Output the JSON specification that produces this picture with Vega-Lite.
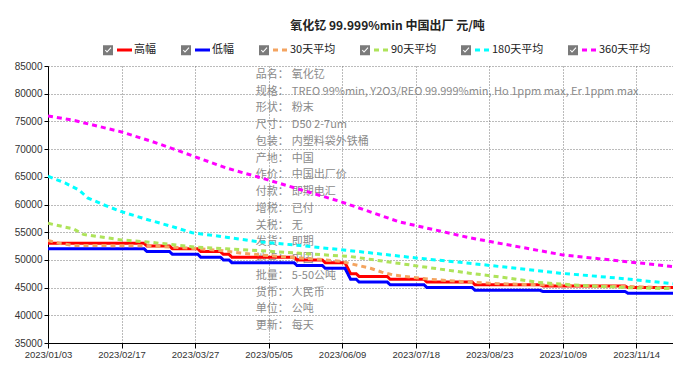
{
  "$schema": "https://vega.github.io/schema/vega-lite/v6.json",
  "width": 625,
  "height": 277,
  "autosize": "none",
  "padding": {"left": 48, "top": 66, "right": 0, "bottom": 33},
  "background": "white",
  "title": {"text": "氧化钇 99.999%min 中国出厂 元/吨", "anchor": "middle", "dx": 27, "offset": 8, "fontSize": 12, "fontWeight": "bold", "font": "Noto Sans CJK SC", "color": "#222"},
  "datasets": {
    "prices": [
      {"s": "高幅", "i": 0, "v": 53000}, {"s": "高幅", "i": 34, "v": 53000}, {"s": "高幅", "i": 35, "v": 52500}, {"s": "高幅", "i": 43, "v": 52500}, {"s": "高幅", "i": 44, "v": 52000}, {"s": "高幅", "i": 53, "v": 52000}, {"s": "高幅", "i": 54, "v": 51500}, {"s": "高幅", "i": 61, "v": 51500}, {"s": "高幅", "i": 62, "v": 51000}, {"s": "高幅", "i": 64, "v": 51000}, {"s": "高幅", "i": 65, "v": 50500}, {"s": "高幅", "i": 87, "v": 50500}, {"s": "高幅", "i": 88, "v": 50000}, {"s": "高幅", "i": 97, "v": 50000}, {"s": "高幅", "i": 98, "v": 49500}, {"s": "高幅", "i": 105, "v": 49500}, {"s": "高幅", "i": 107, "v": 47500}, {"s": "高幅", "i": 109, "v": 47500}, {"s": "高幅", "i": 110, "v": 47000}, {"s": "高幅", "i": 120, "v": 47000}, {"s": "高幅", "i": 121, "v": 46500}, {"s": "高幅", "i": 133, "v": 46500}, {"s": "高幅", "i": 134, "v": 46000}, {"s": "高幅", "i": 150, "v": 46000}, {"s": "高幅", "i": 151, "v": 45500}, {"s": "高幅", "i": 174, "v": 45500}, {"s": "高幅", "i": 175, "v": 45300}, {"s": "高幅", "i": 204, "v": 45300}, {"s": "高幅", "i": 205, "v": 45000}, {"s": "高幅", "i": 221, "v": 45000},
      {"s": "低幅", "i": 0, "v": 52000}, {"s": "低幅", "i": 34, "v": 52000}, {"s": "低幅", "i": 35, "v": 51500}, {"s": "低幅", "i": 43, "v": 51500}, {"s": "低幅", "i": 44, "v": 51000}, {"s": "低幅", "i": 53, "v": 51000}, {"s": "低幅", "i": 54, "v": 50500}, {"s": "低幅", "i": 61, "v": 50500}, {"s": "低幅", "i": 62, "v": 50000}, {"s": "低幅", "i": 64, "v": 50000}, {"s": "低幅", "i": 65, "v": 49500}, {"s": "低幅", "i": 87, "v": 49500}, {"s": "低幅", "i": 88, "v": 49000}, {"s": "低幅", "i": 97, "v": 49000}, {"s": "低幅", "i": 98, "v": 48500}, {"s": "低幅", "i": 105, "v": 48500}, {"s": "低幅", "i": 107, "v": 46500}, {"s": "低幅", "i": 109, "v": 46500}, {"s": "低幅", "i": 110, "v": 46000}, {"s": "低幅", "i": 120, "v": 46000}, {"s": "低幅", "i": 121, "v": 45500}, {"s": "低幅", "i": 133, "v": 45500}, {"s": "低幅", "i": 134, "v": 45000}, {"s": "低幅", "i": 150, "v": 45000}, {"s": "低幅", "i": 151, "v": 44500}, {"s": "低幅", "i": 174, "v": 44500}, {"s": "低幅", "i": 175, "v": 44300}, {"s": "低幅", "i": 204, "v": 44300}, {"s": "低幅", "i": 205, "v": 44000}, {"s": "低幅", "i": 221, "v": 44000},
      {"s": "30天平均", "i": 0, "v": 53500}, {"s": "30天平均", "i": 4, "v": 53000}, {"s": "30天平均", "i": 9, "v": 52600}, {"s": "30天平均", "i": 35, "v": 52550}, {"s": "30天平均", "i": 39, "v": 52450}, {"s": "30天平均", "i": 44, "v": 52300}, {"s": "30天平均", "i": 54, "v": 52000}, {"s": "30天平均", "i": 61, "v": 51700}, {"s": "30天平均", "i": 68, "v": 51250}, {"s": "30天平均", "i": 75, "v": 50900}, {"s": "30天平均", "i": 85, "v": 50500}, {"s": "30天平均", "i": 96, "v": 50100}, {"s": "30天平均", "i": 104, "v": 49700}, {"s": "30天平均", "i": 108, "v": 49200}, {"s": "30天平均", "i": 114, "v": 48500}, {"s": "30天平均", "i": 118, "v": 47800}, {"s": "30天平均", "i": 122, "v": 47300}, {"s": "30天平均", "i": 128, "v": 46900}, {"s": "30天平均", "i": 135, "v": 46500}, {"s": "30天平均", "i": 146, "v": 46100}, {"s": "30天平均", "i": 160, "v": 45700}, {"s": "30天平均", "i": 174, "v": 45500}, {"s": "30天平均", "i": 195, "v": 45300}, {"s": "30天平均", "i": 209, "v": 45150}, {"s": "30天平均", "i": 221, "v": 44900},
      {"s": "90天平均", "i": 0, "v": 56600}, {"s": "90天平均", "i": 9, "v": 55600}, {"s": "90天平均", "i": 12.5, "v": 54600}, {"s": "90天平均", "i": 26, "v": 53600}, {"s": "90天平均", "i": 36, "v": 53200}, {"s": "90天平均", "i": 52, "v": 52300}, {"s": "90天平均", "i": 63, "v": 52000}, {"s": "90天平均", "i": 74, "v": 51700}, {"s": "90天平均", "i": 89, "v": 51200}, {"s": "90天平均", "i": 107, "v": 50600}, {"s": "90天平均", "i": 132, "v": 48800}, {"s": "90天平均", "i": 149, "v": 47600}, {"s": "90天平均", "i": 160, "v": 46900}, {"s": "90天平均", "i": 174, "v": 45900}, {"s": "90天平均", "i": 188, "v": 45400}, {"s": "90天平均", "i": 204, "v": 45000}, {"s": "90天平均", "i": 221, "v": 44800},
      {"s": "180天平均", "i": 0, "v": 65100}, {"s": "180天平均", "i": 6, "v": 63900}, {"s": "180天平均", "i": 11, "v": 62600}, {"s": "180天平均", "i": 14, "v": 61200}, {"s": "180天平均", "i": 19.4, "v": 60000}, {"s": "180天平均", "i": 26, "v": 58700}, {"s": "180天平均", "i": 35, "v": 57300}, {"s": "180天平均", "i": 44, "v": 56000}, {"s": "180天平均", "i": 51, "v": 54900}, {"s": "180天平均", "i": 63, "v": 54100}, {"s": "180天平均", "i": 74, "v": 53300}, {"s": "180天平均", "i": 89, "v": 52600}, {"s": "180天平均", "i": 110, "v": 51500}, {"s": "180天平均", "i": 131, "v": 50300}, {"s": "180天平均", "i": 149, "v": 49400}, {"s": "180天平均", "i": 167, "v": 48400}, {"s": "180天平均", "i": 181, "v": 47600}, {"s": "180天平均", "i": 202, "v": 46700}, {"s": "180天平均", "i": 221, "v": 45700},
      {"s": "360天平均", "i": 0, "v": 76000}, {"s": "360天平均", "i": 9, "v": 75200}, {"s": "360天平均", "i": 26, "v": 73100}, {"s": "360天平均", "i": 36, "v": 71500}, {"s": "360天平均", "i": 44, "v": 70100}, {"s": "360天平均", "i": 51, "v": 68800}, {"s": "360天平均", "i": 63, "v": 66600}, {"s": "360天平均", "i": 74, "v": 65000}, {"s": "360天平均", "i": 78, "v": 64400}, {"s": "360天平均", "i": 103, "v": 60600}, {"s": "360天平均", "i": 124, "v": 56900}, {"s": "360天平均", "i": 149, "v": 54000}, {"s": "360天平均", "i": 182, "v": 50900}, {"s": "360天平均", "i": 221, "v": 48800}
    ],
    "info": [
      {"k": "品名：", "v": "氧化钇"},
      {"k": "规格：", "v": "TREO 99%min, Y2O3/REO 99.999%min, Ho 1ppm max, Er 1ppm max"},
      {"k": "形状：", "v": "粉末"},
      {"k": "尺寸：", "v": "D50 2-7um"},
      {"k": "包装：", "v": "内塑料袋外铁桶"},
      {"k": "产地：", "v": "中国"},
      {"k": "作价：", "v": "中国出厂价"},
      {"k": "付款：", "v": "即期电汇"},
      {"k": "增税：", "v": "已付"},
      {"k": "关税：", "v": "无"},
      {"k": "发货：", "v": "即期"},
      {"k": "地点：", "v": "中国"},
      {"k": "批量：", "v": "5-50公吨"},
      {"k": "货币：", "v": "人民币"},
      {"k": "单位：", "v": "公吨"},
      {"k": "更新：", "v": "每天"}
    ],
    "keys": [
      {"c": "高幅 "}, {"c": "低幅 "}, {"c": "30天平均 "}, {"c": "90天平均 "}, {"c": "180天平均 "}, {"c": "360天平均 "}
    ]
  },
  "layer": [
    {
      "data": {"name": "info"},
      "mark": {"type": "text", "align": "left", "baseline": "middle", "font": "Noto Sans CJK SC", "fontSize": 11, "color": "#8a8a8a"},
      "encoding": {
        "x": {"datum": 73.5, "type": "quantitative"},
        "y": {"field": "k", "type": "ordinal", "sort": null, "axis": null, "scale": {"type": "point", "padding": 0.778, "align": 0.346}},
        "text": {"field": "k"}
      }
    },
    {
      "data": {"name": "info"},
      "mark": {"type": "text", "align": "left", "baseline": "middle", "font": "Noto Sans CJK SC", "fontSize": 11, "color": "#8a8a8a", "dx": 36},
      "encoding": {
        "x": {"datum": 73.5, "type": "quantitative"},
        "y": {"field": "k", "type": "ordinal", "sort": null, "axis": null, "scale": {"type": "point", "padding": 0.778, "align": 0.346}},
        "text": {"field": "v"}
      }
    },
    {
      "data": {"name": "prices"},
      "mark": {"type": "line", "clip": true},
      "encoding": {
        "x": {"field": "i", "type": "quantitative", "scale": {"domain": [0, 221], "nice": false, "zero": false},
          "axis": {"values": [0, 26, 52, 78, 104, 130, 156, 182, 208], "labelExpr": "['2023/01/03','2023/02/17','2023/03/27','2023/05/05','2023/06/09','2023/07/18','2023/08/23','2023/10/09','2023/11/14'][round(datum.value/26)]", "title": null, "grid": true, "tickSize": 5, "labelFontSize": 9.5, "labelPadding": 1, "labelFlush": false, "labelOverlap": false}},
        "y": {"field": "v", "type": "quantitative", "scale": {"domain": [35000, 85000], "nice": false, "zero": false},
          "axis": {"values": [35000, 40000, 45000, 50000, 55000, 60000, 65000, 70000, 75000, 80000, 85000], "format": "d", "title": null, "grid": true, "tickSize": 4, "labelFontSize": 10, "labelPadding": 2, "labelFlush": false, "labelOverlap": false}},
        "color": {"field": "s", "type": "nominal",
          "scale": {"domain": ["高幅", "低幅", "30天平均", "90天平均", "180天平均", "360天平均"], "range": ["#ff0000", "#0000ff", "#f4a460", "#aee35a", "#00ffff", "#ff00ff"]},
          "legend": {"title": null, "orient": "none", "legendX": 54.5, "legendY": -25, "direction": "horizontal", "columns": 6, "columnPadding": 24, "symbolType": "stroke", "symbolSize": 225, "symbolStrokeWidth": 2.5, "symbolOffset": 13, "labelOffset": 0.5, "labelFontSize": 11, "labelFont": "Noto Sans CJK SC", "labelColor": "#222", "padding": 0}},
        "strokeDash": {"field": "s", "type": "nominal",
          "scale": {"domain": ["高幅", "低幅", "30天平均", "90天平均", "180天平均", "360天平均"], "range": [[1, 0], [1, 0], [5, 4], [5, 4], [5, 4], [5, 4]]}},
        "strokeWidth": {"field": "s", "type": "nominal",
          "scale": {"domain": ["高幅", "低幅", "30天平均", "90天平均", "180天平均", "360天平均"], "range": [3, 3, 2, 2, 2, 2]}, "legend": null}
      }
    },
    {
      "data": {"name": "keys"},
      "mark": {"type": "point", "filled": true, "opacity": 0, "color": "#7a7a7a"},
      "encoding": {
        "shape": {"field": "c", "type": "nominal",
          "scale": {"domain": ["高幅 ", "低幅 ", "30天平均 ", "90天平均 ", "180天平均 ", "360天平均 "], "range": [
            "M-1,-1H1V1H-1ZM-0.62,0.02L-0.2,0.5L0.68,-0.45L0.52,-0.6L-0.2,0.2L-0.46,-0.12Z",
            "M-1,-1H1V1H-1ZM-0.62,0.02L-0.2,0.5L0.68,-0.45L0.52,-0.6L-0.2,0.2L-0.46,-0.12Z",
            "M-1,-1H1V1H-1ZM-0.62,0.02L-0.2,0.5L0.68,-0.45L0.52,-0.6L-0.2,0.2L-0.46,-0.12Z",
            "M-1,-1H1V1H-1ZM-0.62,0.02L-0.2,0.5L0.68,-0.45L0.52,-0.6L-0.2,0.2L-0.46,-0.12Z",
            "M-1,-1H1V1H-1ZM-0.62,0.02L-0.2,0.5L0.68,-0.45L0.52,-0.6L-0.2,0.2L-0.46,-0.12Z",
            "M-1,-1H1V1H-1ZM-0.62,0.02L-0.2,0.5L0.68,-0.45L0.52,-0.6L-0.2,0.2L-0.46,-0.12Z"]},
          "legend": {"title": null, "orient": "none", "legendX": 54.5, "legendY": -21.5, "direction": "horizontal", "columns": 6, "columnPadding": 24, "symbolSize": 100, "symbolStrokeWidth": 0, "symbolOpacity": 1, "symbolFillColor": "#7a7a7a", "labelOffset": 20.5, "labelOpacity": 0, "labelExpr": "trim(datum.label)", "labelFontSize": 11, "labelFont": "Noto Sans CJK SC", "padding": 0}}
      }
    }
  ],
  "resolve": {"scale": {"y": "independent"}},
  "config": {
    "view": {"stroke": null},
    "axis": {"gridColor": "#777", "gridDash": [1, 2], "gridWidth": 1, "domainColor": "#000", "tickColor": "#000", "labelColor": "#333", "labelFont": "Liberation Sans"},
    "legend": {"padding": 0}
  }
}
